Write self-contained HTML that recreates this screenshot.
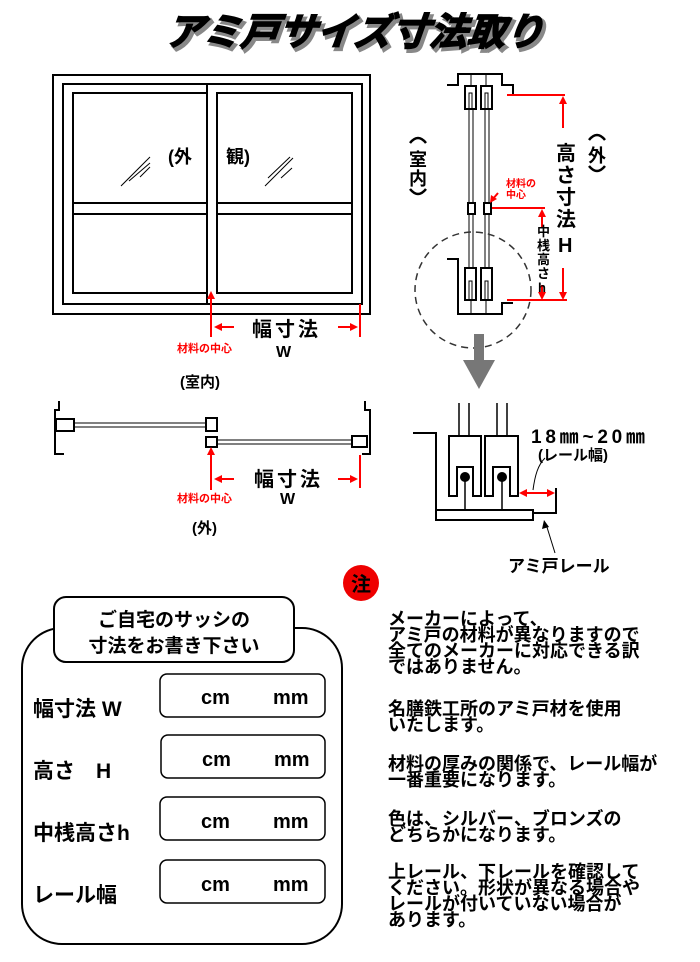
<!DOCTYPE html>
<html><head><meta charset="utf-8"><style>
html,body{margin:0;padding:0;background:#fff;}
svg{display:block;}
text{font-family:"Liberation Sans","Noto Sans CJK JP",sans-serif;font-weight:bold;}
</style></head><body>
<svg width="700" height="962" viewBox="0 0 700 962" xmlns="http://www.w3.org/2000/svg">
<!-- title -->
<text x="355" y="48" font-size="38" text-anchor="middle" fill="#888" stroke="#888" stroke-width="3" font-style="italic" transform="skewX(-6) translate(6,0)">アミ戸サイズ寸法取り</text>
<text x="352" y="45" font-size="38" text-anchor="middle" fill="#000" stroke="#000" stroke-width="1.5" font-style="italic" transform="skewX(-6) translate(6,0)">アミ戸サイズ寸法取り</text>

<!-- window -->
<g fill="none" stroke="#000" stroke-width="2">
<rect x="53" y="75" width="317" height="239"/>
<rect x="63" y="84" width="299" height="220"/>
<rect x="73" y="93" width="134" height="200"/>
<rect x="217" y="93" width="135" height="200"/>
<line x1="207" y1="84" x2="207" y2="304"/>
<line x1="73" y1="203" x2="207" y2="203"/><line x1="73" y1="214" x2="207" y2="214"/>
<line x1="217" y1="203" x2="352" y2="203"/><line x1="217" y1="214" x2="352" y2="214"/>
</g>
<g stroke="#000" stroke-width="1">
<line x1="121" y1="186" x2="150" y2="157"/><line x1="129" y1="181" x2="150" y2="163"/>
<line x1="140" y1="177" x2="150" y2="167"/>
<line x1="265" y1="186" x2="293" y2="158"/><line x1="268" y1="178" x2="290" y2="157"/>
<line x1="281" y1="178" x2="292" y2="168"/>
</g>
<text x="168" y="163" font-size="18">(外</text>
<text x="226" y="163" font-size="18">観)</text>
<g stroke="red" stroke-width="2" fill="red">
<line x1="211" y1="296" x2="211" y2="337"/><polygon points="211,291 207,299 215,299" stroke="none"/>
<line x1="218" y1="327" x2="234" y2="327"/><polygon points="214,327 222,323 222,331" stroke="none"/>
<line x1="338" y1="327" x2="354" y2="327"/><polygon points="358,327 350,323 350,331" stroke="none"/>
<line x1="360" y1="304" x2="360" y2="337"/>
</g>
<text x="252" y="336" font-size="20" letter-spacing="3">幅寸法</text>
<text x="276" y="357" font-size="16">W</text>
<text x="177" y="352" font-size="11" fill="red">材料の中心</text>
<text x="180" y="387" font-size="15">(室内)</text>

<!-- plan view -->
<g fill="none" stroke="#000" stroke-width="2">
<polyline points="59,401 59,410 55,410 55,454 64,454"/>
<polyline points="365,401 365,410 370,410 370,454 362,454"/>
<rect x="56" y="419" width="18" height="12" fill="#fff"/>
<rect x="206" y="418" width="11" height="13"/>
<rect x="206" y="437" width="11" height="10"/>
<rect x="352" y="436" width="15" height="11"/>
</g>
<g stroke="#000" stroke-width="1">
<line x1="74" y1="423" x2="206" y2="423"/><line x1="74" y1="427" x2="206" y2="427"/>
<line x1="217" y1="440" x2="352" y2="440"/><line x1="217" y1="444" x2="352" y2="444"/>
</g>
<g stroke="red" stroke-width="2" fill="red">
<line x1="211" y1="452" x2="211" y2="490"/><polygon points="211,447 207,455 215,455" stroke="none"/>
<line x1="218" y1="479" x2="234" y2="479"/><polygon points="214,479 222,475 222,483" stroke="none"/>
<line x1="338" y1="479" x2="354" y2="479"/><polygon points="358,479 350,475 350,483" stroke="none"/>
<line x1="360" y1="455" x2="360" y2="488"/>
</g>
<text x="254" y="486" font-size="20" letter-spacing="3">幅寸法</text>
<text x="280" y="504" font-size="16">W</text>
<text x="177" y="502" font-size="11" fill="red">材料の中心</text>
<text x="192" y="533" font-size="15">(外)</text>

<!-- section view -->
<g fill="none" stroke="#000" stroke-width="2">
<polyline points="447,85 458,85 458,74 502,74 502,85 513,85 513,95"/>
<polyline points="447,259 458,259 458,314 502,314 502,303 513,303"/>
<rect x="465" y="86" width="11" height="23"/>
<rect x="481" y="86" width="11" height="23"/>
<rect x="468" y="203" width="7" height="11"/>
<rect x="484" y="203" width="7" height="11"/>
<rect x="465" y="268" width="11" height="32"/>
<rect x="481" y="268" width="11" height="32"/>
</g>
<g stroke="#000" stroke-width="1" fill="none">
<line x1="471" y1="74" x2="471" y2="86"/><line x1="486" y1="74" x2="486" y2="86"/>
<path d="M469,109V93h3v16M485,109V93h3v16"/>
<line x1="469" y1="109" x2="469" y2="203"/><line x1="473" y1="109" x2="473" y2="203"/>
<line x1="485" y1="109" x2="485" y2="203"/><line x1="489" y1="109" x2="489" y2="203"/>
<line x1="469" y1="214" x2="469" y2="268"/><line x1="473" y1="214" x2="473" y2="268"/>
<line x1="485" y1="214" x2="485" y2="268"/><line x1="489" y1="214" x2="489" y2="268"/>
<path d="M469,300V281h3v19M485,300V281h3v19"/>
<line x1="471" y1="300" x2="471" y2="314"/><line x1="486" y1="300" x2="486" y2="314"/>
</g>
<circle cx="473" cy="290" r="58" fill="none" stroke="#333" stroke-width="1.5" stroke-dasharray="7,5"/>
<g stroke="red" stroke-width="2" fill="red">
<line x1="507" y1="95" x2="565" y2="95"/>
<line x1="563" y1="103" x2="563" y2="128"/><polygon points="563,96 559,104 567,104" stroke="none"/>
<line x1="563" y1="268" x2="563" y2="293"/><polygon points="563,300 559,292 567,292" stroke="none"/>
<line x1="507" y1="300" x2="567" y2="300"/>
<line x1="492" y1="208" x2="545" y2="208"/>
<line x1="542" y1="215" x2="542" y2="228"/><polygon points="542,209 538,217 546,217" stroke="none"/>
<line x1="542" y1="285" x2="542" y2="293"/><polygon points="542,300 538,292 546,292" stroke="none"/>
<line x1="498" y1="193" x2="492" y2="200"/><polygon points="490,203 491,195 497,199" stroke="none"/>
</g>
<text x="506" y="187" font-size="10" fill="red">材料の</text>
<text x="506" y="198" font-size="10" fill="red">中心</text>
<g font-size="20">
<text x="556" y="160">高</text><text x="556" y="182">さ</text><text x="556" y="204">寸</text><text x="556" y="226">法</text><text x="558" y="252">H</text>
</g>
<g font-size="13">
<text x="537" y="236">中</text><text x="537" y="250">桟</text><text x="537" y="264">高</text><text x="537" y="278">さ</text><text x="538" y="292">h</text>
</g>
<g font-size="18" text-anchor="middle">
<text x="597" y="162">外</text>
<text x="418" y="166">室</text><text x="418" y="185">内</text>
</g>
<g fill="none" stroke="#000" stroke-width="2.5">
<path d="M589,140 Q597,130 605,140"/>
<path d="M589,166 Q597,176 605,166"/>
<path d="M410,143 Q418,133 426,143"/>
<path d="M410,189 Q418,199 426,189"/>
</g>

<!-- gray arrow -->
<rect x="474" y="334" width="10" height="30" fill="#777"/>
<polygon points="463,360 495,360 479,389" fill="#777"/>

<!-- rail detail -->
<g fill="none" stroke="#000" stroke-width="2">
<polyline points="413,433 436,433 436,520"/>
<rect x="436" y="510" width="97" height="10"/>
<polyline points="533,513 556,513 556,488"/>
<path d="M449,496V436h32v60h-8v-29h-16v29z"/>
<path d="M485,496V436h33v60h-8v-29h-17v29z"/>
</g>
<g stroke="#000" stroke-width="1.5">
<line x1="459" y1="403" x2="459" y2="436"/><line x1="469" y1="403" x2="469" y2="436"/>
<line x1="497" y1="403" x2="497" y2="436"/><line x1="507" y1="403" x2="507" y2="436"/>
<line x1="465" y1="479" x2="465" y2="510"/><line x1="502" y1="479" x2="502" y2="510"/>
</g>
<circle cx="465" cy="477" r="5" fill="#000"/><circle cx="502" cy="477" r="5" fill="#000"/>
<g stroke="red" stroke-width="2" fill="red">
<line x1="524" y1="493" x2="550" y2="493"/>
<polygon points="519,493 527,489 527,497" stroke="none"/><polygon points="555,493 547,489 547,497" stroke="none"/>
</g>
<path d="M533,490 C535,475 538,465 545,458" fill="none" stroke="#000" stroke-width="1"/>
<path d="M555,553 L546,524" fill="none" stroke="#000" stroke-width="1"/>
<polygon points="544,520 542,529 549,527" fill="#000"/>
<text x="531" y="443" font-size="19" fill="#000" textLength="114">18㎜~20㎜</text>
<text x="538" y="460" font-size="15">(レール幅)</text>
<text x="508" y="572" font-size="17">アミ戸レール</text>

<!-- form -->
<rect x="22" y="628" width="320" height="316" rx="40" fill="none" stroke="#000" stroke-width="2"/>
<rect x="54" y="597" width="240" height="65" rx="12" fill="#fff" stroke="#000" stroke-width="2"/>
<text x="174" y="626" font-size="19" text-anchor="middle">ご自宅のサッシの</text>
<text x="174" y="652" font-size="19" text-anchor="middle">寸法をお書き下さい</text>
<g fill="none" stroke="#000" stroke-width="1.5">
<rect x="160" y="674" width="165" height="43" rx="7"/>
<rect x="161" y="735" width="164" height="43" rx="7"/>
<rect x="160" y="797" width="165" height="43" rx="7"/>
<rect x="160" y="860" width="165" height="43" rx="7"/>
</g>
<g font-size="21">
<text x="33" y="716">幅寸法 W</text>
<text x="33" y="778">高さ　H</text>
<text x="33" y="840">中桟高さh</text>
<text x="33" y="902">レール幅</text>
</g>
<g font-size="20">
<text x="201" y="704">cm</text><text x="273" y="704">mm</text>
<text x="202" y="766">cm</text><text x="274" y="766">mm</text>
<text x="201" y="828">cm</text><text x="273" y="828">mm</text>
<text x="201" y="891">cm</text><text x="273" y="891">mm</text>
</g>

<!-- notes -->
<circle cx="361" cy="583" r="18" fill="#ee0000"/>
<text x="361" y="591" font-size="20" text-anchor="middle">注</text>
<g font-size="18">
<text x="388" y="625">メーカーによって、</text>
<text x="388" y="641">アミ戸の材料が異なりますので</text>
<text x="388" y="657">全てのメーカーに対応できる訳</text>
<text x="388" y="673">ではありません。</text>
<text x="388" y="715">名膳鉄工所のアミ戸材を使用</text>
<text x="388" y="731">いたします。</text>
<text x="388" y="770">材料の厚みの関係で、レール幅が</text>
<text x="388" y="786">一番重要になります。</text>
<text x="388" y="825">色は、シルバー、ブロンズの</text>
<text x="388" y="841">どちらかになります。</text>
<text x="388" y="878">上レール、下レールを確認して</text>
<text x="388" y="894">ください。形状が異なる場合や</text>
<text x="388" y="910">レールが付いていない場合が</text>
<text x="388" y="926">あります。</text>
</g>
</svg>
</body></html>
